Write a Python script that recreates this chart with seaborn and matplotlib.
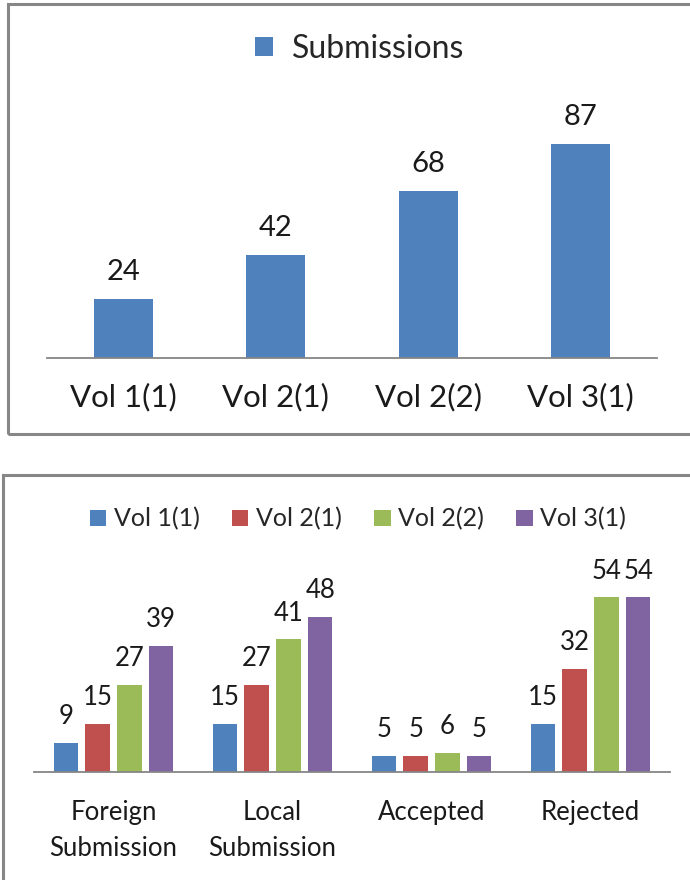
import matplotlib.pyplot as plt
import pandas as pd
import seaborn as sns
from matplotlib.patches import Rectangle

# values
volumes = ["Vol 1(1)", "Vol 2(1)", "Vol 2(2)", "Vol 3(1)"]
submissions = [24, 42, 68, 87]

categories = ["Foreign\nSubmission", "Local\nSubmission", "Accepted", "Rejected"]
vol_1_1 = [9, 15, 5, 15]
vol_2_1 = [15, 27, 5, 32]
vol_2_2 = [27, 41, 6, 54]
vol_3_1 = [39, 48, 5, 54]

colors = ["#4F81BD", "#C0504D", "#9BBB59", "#8064A2"]

sns.set_style("white")
plt.rcParams["font.family"] = ["Lato", "DejaVu Sans"]

W, H = 690, 880
fig = plt.figure(figsize=(W / 100, H / 100), dpi=100)


def px_axes(left, top, right, bottom):
    # axes box from pixel positions (origin top-left)
    return fig.add_axes([left / W, 1 - bottom / H, (right - left) / W, (bottom - top) / H])


# gray panel frames
for x0, y0, x1, y1 in [(7.5, 4.5, 700, 434.5), (3.5, 474.5, 700, 890)]:
    fig.patches.append(Rectangle((x0 / W, 1 - y1 / H), (x1 - x0) / W, (y1 - y0) / H,
                                 transform=fig.transFigure, fill=False,
                                 edgecolor="#878787", linewidth=2.2))

# top chart
ax1 = px_axes(47, 112, 657, 358)
sns.barplot(x=volumes, y=submissions, color=colors[0], saturation=1, width=0.39,
            linewidth=0, label="Submissions", ax=ax1)
ax1.set_ylim(0, 100)
for c in ax1.containers:
    ax1.bar_label(c, padding=10, fontsize=21, color="#1a1a1a")
ax1.legend(loc="center", bbox_to_anchor=(360 / W, 1 - 49 / H),
           bbox_transform=fig.transFigure, frameon=False, fontsize=23,
           handlelength=0.55, handleheight=0.55, handletextpad=0.6)

# bottom chart
df = pd.DataFrame({
    "category": categories * 4,
    "volume": [v for v in volumes for _ in categories],
    "count": vol_1_1 + vol_2_1 + vol_2_2 + vol_3_1,
})
ax2 = px_axes(34, 578, 670, 772)
sns.barplot(data=df, x="category", y="count", hue="volume", palette=colors,
            saturation=1, width=0.8, gap=0.23, linewidth=0, ax=ax2)
ax2.set_ylim(0, 60)
for c in ax2.containers:
    ax2.bar_label(c, padding=10, fontsize=18.5, color="#1a1a1a")
ax2.legend(loc="center", bbox_to_anchor=(358 / W, 1 - 519 / H),
           bbox_transform=fig.transFigure, frameon=False, ncol=4, fontsize=18,
           handlelength=0.65, handleheight=0.65, handletextpad=0.3, columnspacing=1.3)

for ax, pad, size in [(ax1, 18, 22.5), (ax2, 20, 18.5)]:
    ax.set_xlabel("")
    ax.set_ylabel("")
    ax.set_yticks([])
    for side in ["top", "left", "right"]:
        ax.spines[side].set_visible(False)
    ax.spines["bottom"].set_color("#868686")
    ax.spines["bottom"].set_linewidth(1.3)
    ax.tick_params(axis="x", length=0, pad=pad, labelsize=size, labelcolor="#1a1a1a")

for t in ax2.get_xticklabels():
    t.set_linespacing(1.55)
    t.set_verticalalignment("top")

fig.savefig("out.png", dpi=100)
